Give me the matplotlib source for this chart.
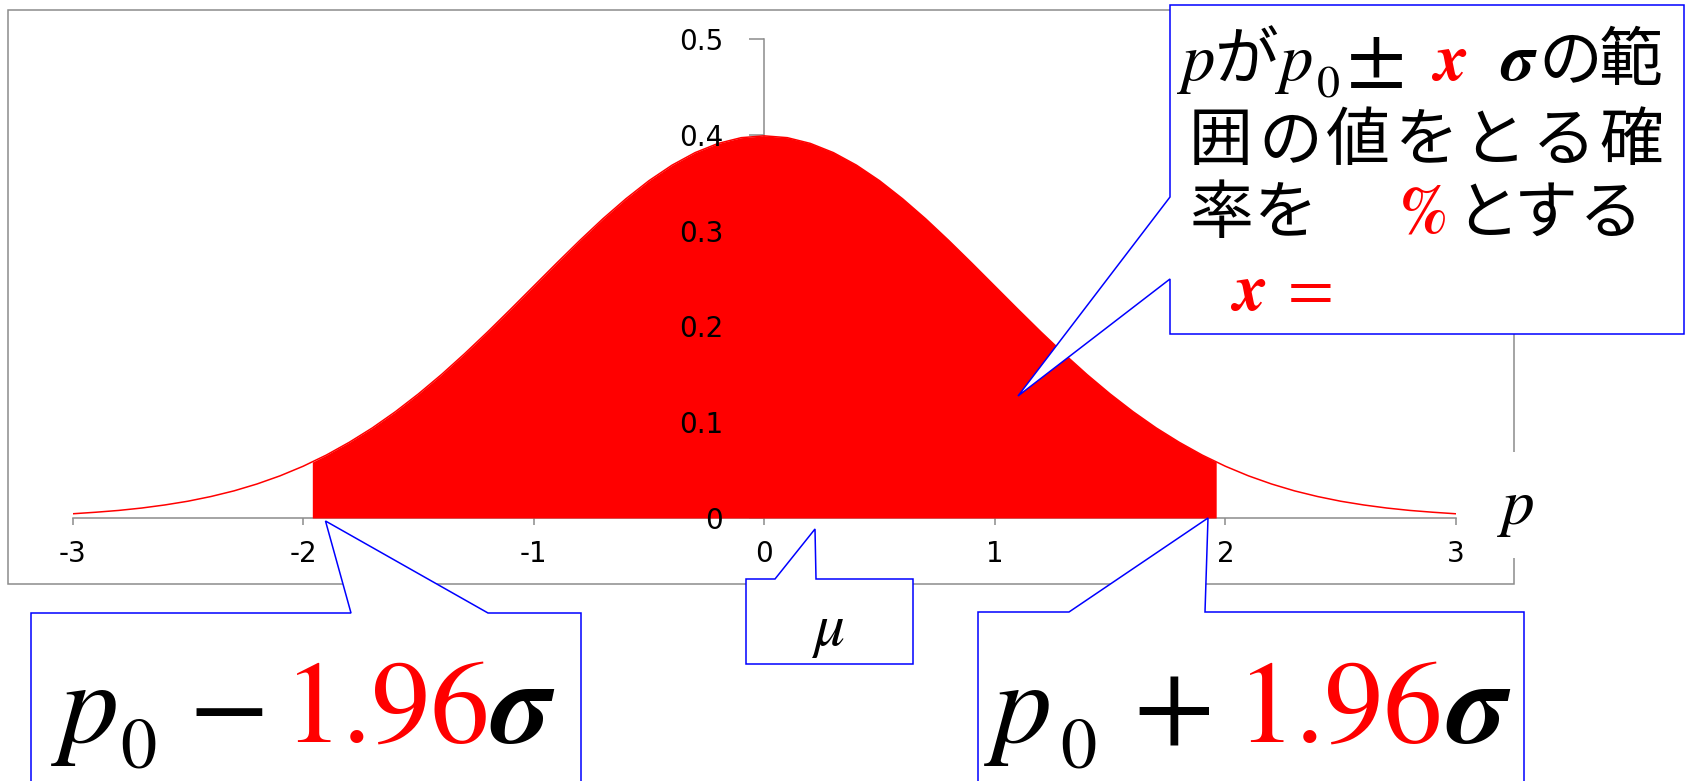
import numpy as np
import matplotlib
matplotlib.use("Agg")
import matplotlib.pyplot as plt
from matplotlib.patches import Polygon, Rectangle
from matplotlib import transforms

# ----------------------------------------------------------------------
# values
# ----------------------------------------------------------------------
x_step = 0.1
# density at p = 0.0, 0.1, ..., 3.0 (curve is symmetric about 0)
pdf_half = [0.3989, 0.3970, 0.3910, 0.3814, 0.3683, 0.3521, 0.3332, 0.3123,
            0.2897, 0.2661, 0.2420, 0.2179, 0.1942, 0.1714, 0.1497, 0.1295,
            0.1109, 0.0940, 0.0790, 0.0656, 0.0540, 0.0440, 0.0355, 0.0283,
            0.0224, 0.0175, 0.0136, 0.0104, 0.0079, 0.0060, 0.0044]
z_cut = 1.96
pdf_cut = 0.0584
x_ticks = [-3, -2, -1, 0, 1, 2, 3]
x_tick_labels = ['-3', '-2', '-1', '0', '1', '2', '3']
y_ticks = [0, 0.1, 0.2, 0.3, 0.4, 0.5]
y_tick_labels = ['0', '0.1', '0.2', '0.3', '0.4', '0.5']

# full curve and the shaded part between -z and +z
half_x = np.arange(len(pdf_half)) * x_step
px = np.concatenate([-half_x[:0:-1], half_x])
py = np.concatenate([np.array(pdf_half)[:0:-1], pdf_half])
inside = np.abs(px) < z_cut
fx = np.concatenate([[-z_cut], px[inside], [z_cut]])
fy = np.concatenate([[pdf_cut], py[inside], [pdf_cut]])

# ----------------------------------------------------------------------
# plot
# ----------------------------------------------------------------------
W, H = 1693, 781
RED = '#ff0000'
BLUE = '#0000ff'
GRAY = '#8c8c8c'
SERIF = ['STIXGeneral', 'DejaVu Serif']
JP = ['Noto Sans CJK JP', 'DejaVu Sans']
TICKSIZE = 20

fig = plt.figure(figsize=(W / 100, H / 100), dpi=100)
ax = fig.add_axes([72.5 / W, (H - 518) / H, 1383.5 / W, 479 / H])
ax.patch.set_visible(False)

ax.fill_between(fx, 0, fy, color=RED, lw=0, zorder=3)
ax.plot(px, py, color=RED, lw=1.1, zorder=3)

ax.set_xlim(-3, 3)
ax.set_ylim(0, 0.5)
for s in ['top', 'right']:
    ax.spines[s].set_visible(False)
ax.spines['left'].set_position(('data', 0))
for s in ['left', 'bottom']:
    ax.spines[s].set_color(GRAY)
    ax.spines[s].set_linewidth(1.1)

ax.set_xticks(x_ticks)
ax.set_xticklabels(x_tick_labels, family='DejaVu Sans')
ax.tick_params(axis='x', direction='out', length=5, width=1.1, color=GRAY,
               pad=11, labelsize=TICKSIZE)
ax.set_yticks(y_ticks)
ax.tick_params(axis='y', direction='out', length=10.8, width=1.1, color=GRAY,
               labelleft=False)

# y labels drawn above the red area
lab_tr = transforms.offset_copy(ax.transData, fig=fig, x=-41, y=0, units='dots')
for v, s in zip(y_ticks, y_tick_labels):
    ax.text(0, v, s, transform=lab_tr, ha='right', va='center_baseline',
            fontsize=TICKSIZE, family='DejaVu Sans', zorder=5)

# overlay in pixel coordinates for frame and callouts
ov = fig.add_axes([0, 0, 1, 1], zorder=10)
ov.set_xlim(0, W)
ov.set_ylim(H, 0)
ov.axis('off')
ov.patch.set_visible(False)

ov.add_patch(Rectangle((8, 10), 1506, 574, fill=False, ec=GRAY, lw=1.1))
ov.add_patch(Rectangle((1490, 452), 60, 106, fc='white', ec='none'))


def callout(pts):
    ov.add_patch(Polygon(pts, closed=True, fc='white', ec=BLUE, lw=1.1,
                         joinstyle='miter'))


callout([(31, 800), (31, 613), (351, 613), (325.5, 521), (488, 613),
         (581, 613), (581, 800)])
callout([(746, 664), (746, 579), (775, 579), (815, 529), (816, 579),
         (913, 579), (913, 664)])
callout([(978, 800), (978, 612), (1069, 612), (1208, 518), (1205, 612),
         (1524, 612), (1524, 800)])
callout([(1170, 5), (1684, 5), (1684, 334), (1170, 334), (1170, 279),
         (1018, 396), (1170, 197)])


def put(x, y, s, size, color='black', fam=SERIF, style='normal',
        weight='normal', ha='left'):
    ov.text(x, y, s, fontsize=size, color=color, family=fam, style=style,
            weight=weight, ha=ha, va='baseline')


# top right box
put(1182, 80, 'p', 48, style='italic')
put(1215, 80, 'が', 46, fam=JP)
put(1280, 80, 'p', 48, style='italic')
put(1317, 97, '0', 33)
put(1347, 80, '±', 62)
put(1435, 80, 'x', 48, color=RED, style='italic', weight='bold')
put(1500, 80, 'σ', 48, style='italic', weight='bold')
put(1538, 80, 'の', 46, fam=JP)
put(1599, 80, '範', 46, fam=JP)
for cx, ch in zip([1221, 1290, 1358, 1427, 1494, 1564, 1631], '囲の値をとる確'):
    put(cx, 160, ch, 46, fam=JP, ha='center')
for cx, ch in zip([1222, 1286, 1487, 1546, 1611], '率をとする'):
    put(cx, 233, ch, 46, fam=JP, ha='center')
put(1424, 233, '%', 48, color=RED, weight='bold', ha='center')
put(1234, 310, 'x', 48, color=RED, style='italic', weight='bold')
put(1288, 310, '=', 48, color=RED)

# bottom boxes
put(60, 742, 'p', 85, style='italic')
put(120, 768, '0', 52)
put(188, 742, '−', 85)
put(284, 742, '1.96', 85, color=RED)
put(490, 742, 'σ', 85, style='italic', weight='bold')

put(993, 742, 'p', 85, style='italic')
put(1060, 768, '0', 52)
put(1133, 742, '+', 85)
put(1237, 742, '1.96', 85, color=RED)
put(1446, 742, 'σ', 85, style='italic', weight='bold')

put(829, 645, 'μ', 44, style='italic', ha='center')
put(1502, 524, 'p', 47, style='italic')

fig.savefig('out.png', dpi=100)
